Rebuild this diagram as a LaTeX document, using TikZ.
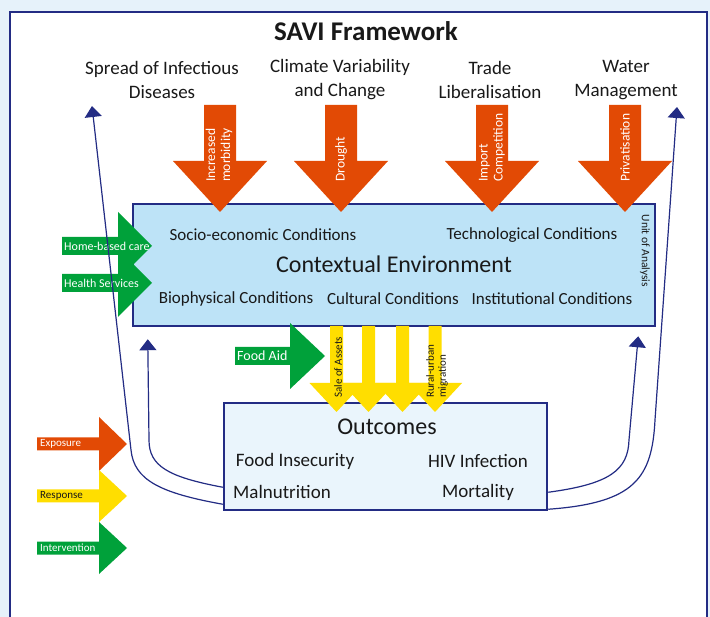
\documentclass[tikz,border=0pt]{standalone}
\usepackage{fontspec}
\setmainfont{Carlito}
\usetikzlibrary{arrows.meta,calc}
\tikzset{>=Latex}
\definecolor{savi blue}{HTML}{232C84}
\definecolor{savi sky}{HTML}{BDE3F7}
\definecolor{savi pale}{HTML}{EAF5FC}
\definecolor{savi back}{HTML}{E6F2FA}
\definecolor{savi orange}{HTML}{E24A05}
\definecolor{savi green}{HTML}{00A13A}
\definecolor{savi yellow}{HTML}{FFDE00}
\newcommand{\fs}[2]{\fontsize{#1}{#2}\selectfont}
% block arrows: x, ytop, yhead, ytip, shaft half, head half, colour
\newcommand{\savidown}[7]{\fill[#7] (#1-#5,#2) -- (#1+#5,#2) -- (#1+#5,#3) -- (#1+#6,#3) -- (#1,#4) -- (#1-#6,#3) -- (#1-#5,#3) -- cycle;}
% x0, xhead, xtip, y, shaft half, head half, colour
\newcommand{\saviright}[7]{\fill[#7] (#1,#4-#5) -- (#2,#4-#5) -- (#2,#4-#6) -- (#3,#4) -- (#2,#4+#6) -- (#2,#4+#5) -- (#1,#4+#5) -- cycle;}

\begin{document}
\begin{tikzpicture}[x=1pt,y=-1pt,
  box/.style={draw=savi blue,line width=2.5pt},
  link/.style={savi blue,line width=1.2pt,-{Triangle[width=17pt,length=11pt]}},
  txt/.style={text=black!90,inner sep=0pt}]
  \useasboundingbox (0,0) rectangle (710,617);
  \fill[savi back] (0,0) rectangle (710,617);
  \draw[savi blue,line width=2.5pt,fill=white] (10,12) rectangle (707,640);

  \node[txt,font=\fs{27}{30}\bfseries] (title) at (366,31) {SAVI Framework};
  \node[txt,align=center,font=\fs{19}{24}] (spread) at (162,80) {Spread of Infectious\\Diseases};
  \node[txt,align=center,font=\fs{19}{24}] (climate) at (340,80) {Climate Variability\\and Change};
  \node[txt,align=center,font=\fs{19}{24}] (trade) at (490,80) {Trade\\Liberalisation};
  \node[txt,align=center,font=\fs{19}{24}] (water) at (626,80) {Water\\Management};

  % contextual environment
  \node[box,fill=savi sky,minimum width=522pt,minimum height=122pt] (ctx) at (394,265) {};
  \node[txt,font=\fs{17}{20}] (socio) at (263,235) {Socio-economic Conditions};
  \node[txt,font=\fs{17}{20}] (techno) at (532,235) {Technological Conditions};
  \node[txt,font=\fs{24}{28}] (context) at (394,264) {Contextual Environment};
  \node[txt,font=\fs{17}{20}] (bio) at (236,299) {Biophysical Conditions};
  \node[txt,font=\fs{17}{20}] (cult) at (393,299) {Cultural Conditions};
  \node[txt,font=\fs{17}{20}] (inst) at (552,299) {Institutional Conditions};
  \node[txt,font=\fs{11.5}{13},rotate=-90] (unit) at (645,251) {Unit of Analysis};

  % outcomes
  \node[box,fill=savi pale,minimum width=323pt,minimum height=107pt] (out) at (385.5,456.5) {};
  \node[txt,font=\fs{24}{28}] (outtitle) at (387,427) {Outcomes};
  \node[txt,font=\fs{19}{22}] (food) at (295,461) {Food Insecurity};
  \node[txt,font=\fs{19}{22}] (hiv) at (478,461) {HIV Infection};
  \node[txt,font=\fs{19}{22}] (maln) at (282,492) {Malnutrition};
  \node[txt,font=\fs{19}{22}] (mort) at (478,492) {Mortality};

  % exposure
  \savidown{220}{105}{161}{212}{16}{47}{savi orange}
  \savidown{341}{105}{161}{212}{16}{47}{savi orange}
  \savidown{492}{105}{161}{212}{16}{47}{savi orange}
  \savidown{625}{105}{161}{212}{16}{47}{savi orange}
  \node[txt,text=white,rotate=90,anchor=west,align=left,font=\fs{13.5}{15}] (morb) at (219,182) {Increased\\morbidity};
  \node[txt,text=white,rotate=90,anchor=west,font=\fs{13.5}{15}] (drought) at (341,182) {Drought};
  \node[txt,text=white,rotate=90,anchor=west,align=left,font=\fs{13.5}{15}] (import) at (492,182) {Import\\Competition};
  \node[txt,text=white,rotate=90,anchor=west,font=\fs{13.5}{15}] (priv) at (625,182) {Privatisation};

  % interventions
  \saviright{62}{118}{152}{246}{9}{34}{savi green}
  \saviright{62}{118}{152}{283}{9}{34}{savi green}
  \saviright{235}{290}{325}{356}{9}{33}{savi green}
  \node[txt,text=white,anchor=west,font=\fs{12}{14}] (home) at (64,246) {Home-based care};
  \node[txt,text=white,anchor=west,font=\fs{12}{14}] (health) at (64,283) {Health Services};
  \node[txt,text=white,anchor=west,font=\fs{14}{16}] (aid) at (237,356) {Food Aid};

  % responses
  \savidown{336.5}{326}{383}{412}{6.5}{27}{savi yellow}
  \savidown{368.5}{326}{383}{412}{6.5}{27}{savi yellow}
  \savidown{402.5}{326}{383}{412}{6.5}{27}{savi yellow}
  \savidown{435}{326}{383}{412}{6.5}{27}{savi yellow}
  \node[txt,rotate=90,anchor=west,font=\fs{11}{12}] (sale) at (338,398) {Sale of Assets};
  \node[txt,rotate=90,anchor=west,align=left,font=\fs{11}{12}] (rural) at (437,398) {Rural-urban\\migration};

  % legend
  \saviright{37}{99}{127}{444}{6.5}{27}{savi orange}
  \saviright{37}{99}{127}{496}{6.5}{26}{savi yellow}
  \saviright{37}{99}{127}{548}{6.5}{26}{savi green}
  \node[txt,text=white,anchor=west,font=\fs{11}{13}] (expo) at (40,444) {Exposure};
  \node[txt,anchor=west,font=\fs{11}{13}] (resp) at (40,496) {Response};
  \node[txt,text=white,anchor=west,font=\fs{11}{13}] (inter) at (40,548) {Intervention};

  % feedback
  \coordinate (spreadtip) at (92,106);
  \coordinate (watertip) at (677,107);
  \draw[link] ([yshift=7pt]out.south west) .. controls (160,493) and (134,480) .. (131,450) -- (spreadtip);
  \draw[link] ([yshift=24pt]out.south west) .. controls (168,477) and (149,466) .. (149,440) -- ($(ctx.south west)+(16,12)$);
  \draw[link] ([yshift=19pt]out.south east) .. controls (610,484) and (628,470) .. (629,440) -- ($(ctx.south east)+(-18,9)$);
  \draw[link] ([yshift=2pt]out.south east) .. controls (635,503) and (652,478) .. (655,420) -- (watertip);
\end{tikzpicture}
\end{document}
